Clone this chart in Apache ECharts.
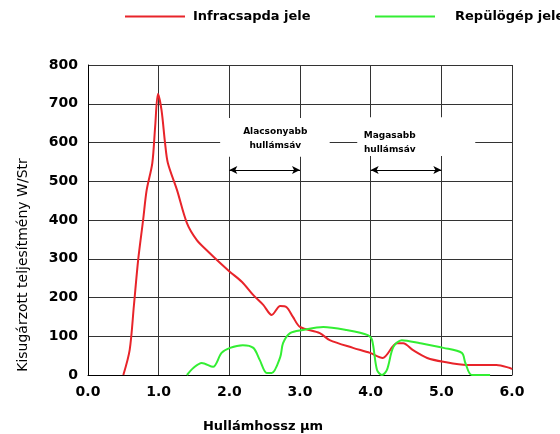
<!DOCTYPE html>
<html><head><meta charset="utf-8">
<script src="https://cdn.jsdelivr.net/npm/echarts@6/dist/echarts.min.js"></script>
<style>html,body{margin:0;padding:0;background:#fff}#c{width:560px;height:434px}</style>
</head><body><div id="c"></div>
<script>
const xTicks = [0, 1, 2, 3, 4, 5, 6];
const redX = [0.50,0.59,0.65,0.71,0.78,0.83,0.91,0.95,0.99,1.04,1.09,1.13,1.26,1.40,1.54,1.68,1.87,2.01,2.18,2.34,2.48,2.60,2.72,2.81,2.90,3.00,3.28,3.42,3.75,3.99,4.17,4.37,4.46,4.60,4.80,5.03,5.36,5.78,5.97,6.00];
const redY = [0,65,180,297,400,477,547,640,725,684,599,547,477,392,348,322,289,266,240,206,181,155,178,175,150,124,108,90,70,57,44,82,82,64,44,34,26,26,18,15];
const greenX = [1.40,1.49,1.61,1.77,1.89,2.01,2.19,2.34,2.43,2.53,2.60,2.72,2.76,2.86,3.04,3.33,3.66,3.96,4.02,4.09,4.16,4.23,4.32,4.44,4.70,5.03,5.29,5.34,5.43,5.69];
const greenY = [0,18,31,21,57,70,77,70,39,5,5,46,82,108,116,124,116,103,90,13,0,13,72,90,82,70,57,31,0,0];
const seriesNames = ['Infracsapda jele', 'Repülögép jele'];
const bandLabels = ['Alacsonyabb\nhullámsáv', 'Magasabb\nhullámsáv'];

const zip = (xs, ys) => xs.map((x, i) => [x, ys[i]]);
const chart = echarts.init(document.getElementById('c'));
const F = 'DejaVu Sans';
chart.setOption({
  animation: false,
  backgroundColor: '#fff',
  grid: { left: 88, right: 48, top: 65, bottom: 59 },
  legend: [
    { left: 120, top: 5, data: [seriesNames[0]], itemWidth: 60, itemHeight: 14, icon: 'path://M0,6L60,6L60,8L0,8Z',
      textStyle: { fontFamily: F, fontWeight: 'bold', fontSize: 13, color: '#000', padding: [0,0,0,3] } },
    { left: 370, top: 5, data: [seriesNames[1]], itemWidth: 60, itemHeight: 14, icon: 'path://M0,6L60,6L60,8L0,8Z',
      textStyle: { fontFamily: F, fontWeight: 'bold', fontSize: 13, color: '#000', padding: [0,0,0,15] } }
  ],
  xAxis: {
    type: 'value', min: 0, max: 6, interval: 1,
    axisLine: { show: true, lineStyle: { color: '#000', width: 1 } },
    axisTick: { show: false },
    splitLine: { show: true, lineStyle: { color: '#333', width: 1 } },
    axisLabel: { formatter: v => v.toFixed(1), fontFamily: F, fontWeight: 'bold', fontSize: 14, color: '#000', margin: 10 }
  },
  yAxis: {
    type: 'value', min: 0, max: 800, interval: 100,
    axisLine: { show: true, lineStyle: { color: '#000', width: 1 } },
    axisTick: { show: false },
    splitLine: { show: true, lineStyle: { color: '#333', width: 1 } },
    axisLabel: { fontFamily: F, fontWeight: 'bold', fontSize: 14, color: '#000', margin: 10 }
  },
  graphic: [
    { type: 'text', x: 263, y: 427, style: { text: 'Hullámhossz µm', font: 'bold 13px "DejaVu Sans"', fill: '#000', textAlign: 'center', textVerticalAlign: 'middle' } },
    { type: 'text', x: 23, y: 265, rotation: Math.PI / 2, style: { text: 'Kisugárzott teljesítmény W/Str', font: '14px "DejaVu Sans"', fill: '#000', textAlign: 'center', textVerticalAlign: 'middle' } }
  ],
  series: [
    {
      name: seriesNames[0], type: 'line', data: zip(redX, redY), smooth: 0.3, symbol: 'none',
      lineStyle: { color: '#e8242a', width: 2 }, itemStyle: { color: '#e8242a' }, z: 3,
      markArea: {
        silent: true, itemStyle: { color: '#fff' },
        data: [
          [{ coord: [1.87, 563] }, { coord: [3.42, 663] }],
          [{ coord: [3.81, 565] }, { coord: [5.48, 665] }]
        ]
      },
      markLine: {
        silent: true, symbol: ['arrow', 'arrow'], symbolSize: [6, 8],
        lineStyle: { color: '#000', width: 1, type: 'solid' }, label: { show: false },
        data: [
          [{ coord: [2, 529] }, { coord: [3, 529] }],
          [{ coord: [4, 529] }, { coord: [5, 529] }]
        ]
      },
      markPoint: {
        silent: true, symbol: 'circle', symbolSize: 0,
        label: { show: true, position: 'inside', fontFamily: F, fontWeight: 'bold', fontSize: 9, color: '#000', lineHeight: 14, align: 'center' },
        data: [
          { coord: [2.65, 609], value: bandLabels[0], label: { formatter: bandLabels[0] } },
          { coord: [4.27, 599], value: bandLabels[1], label: { formatter: bandLabels[1] } }
        ]
      }
    },
    {
      name: seriesNames[1], type: 'line', data: zip(greenX, greenY), smooth: 0.3, symbol: 'none',
      lineStyle: { color: '#33ee33', width: 2 }, itemStyle: { color: '#33ee33' }, z: 3
    }
  ]
});
</script></body></html>
